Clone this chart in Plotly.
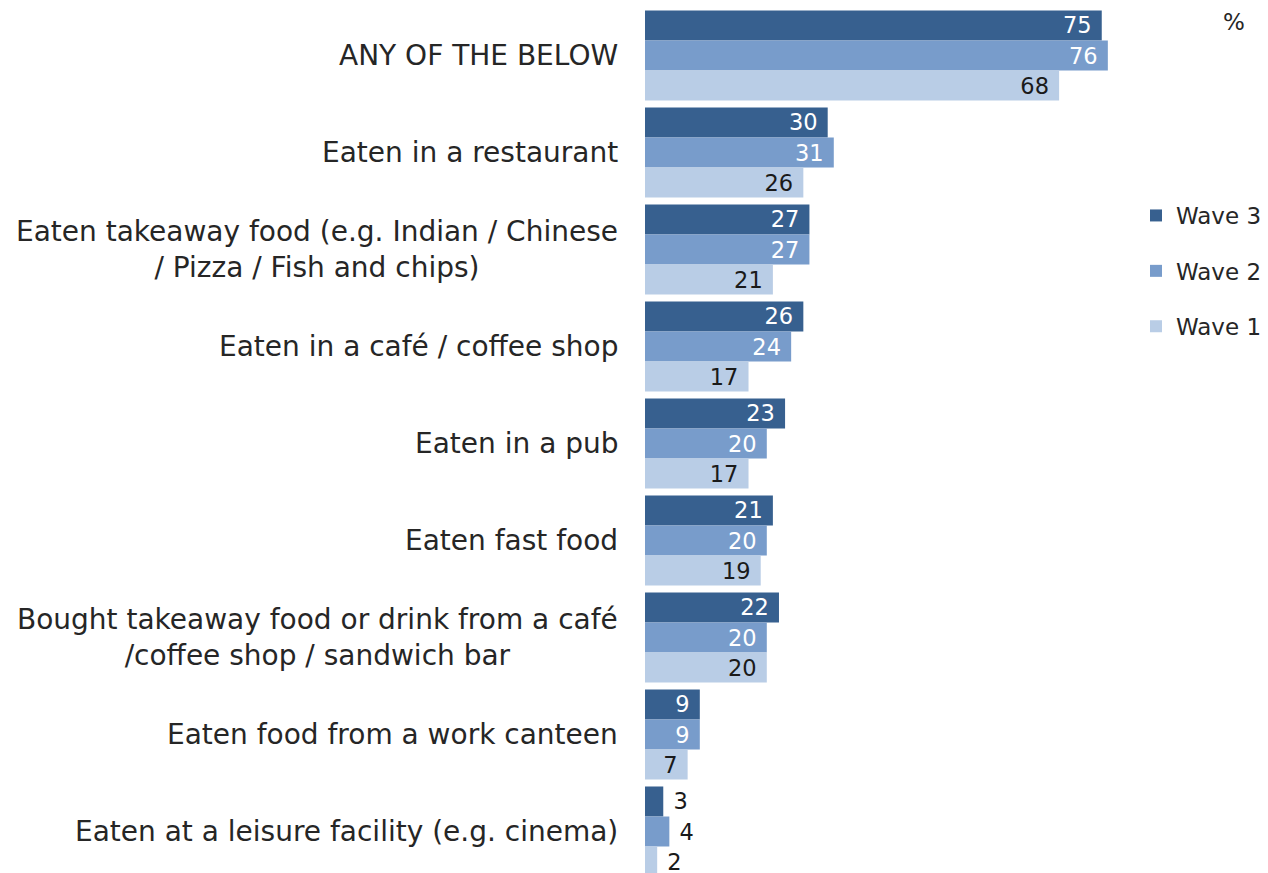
import plotly.graph_objects as go

categories = [
    "ANY OF THE BELOW",
    "Eaten in a restaurant",
    "Eaten takeaway food (e.g. Indian / Chinese<br>/ Pizza / Fish and chips)",
    "Eaten in a café / coffee shop",
    "Eaten in a pub",
    "Eaten fast food",
    "Bought takeaway food or drink from a café<br>/coffee shop / sandwich bar",
    "Eaten food from a work canteen",
    "Eaten at a leisure facility (e.g. cinema)",
]
wave3 = [75, 30, 27, 26, 23, 21, 22, 9, 3]
wave2 = [76, 31, 27, 24, 20, 20, 20, 9, 4]
wave1 = [68, 26, 21, 17, 17, 19, 20, 7, 2]
series_names = ["Wave 3", "Wave 2", "Wave 1"]
colors = ["#37608F", "#789CCB", "#B9CDE6"]
inside_text_colors = ["#FFFFFF", "#FFFFFF", "#1A1A1A"]

W, H = 1268, 873
ML, MR, MT, MB = 645, 128, 7, 0
plot_w = W - ML - MR
plot_h = H - MT - MB
px_per_unit = 6.09
x_max = plot_w / px_per_unit
pitch = 97.0
y_bottom = -0.5 + plot_h / pitch

fig = go.Figure()
ids = list(range(len(categories)))
for name, vals, col, tcol in zip(series_names, [wave3, wave2, wave1], colors, inside_text_colors):
    positions = ["inside" if v >= 6 else "outside" for v in vals]
    tcolors = [tcol if v >= 6 else "#1A1A1A" for v in vals]
    texts = [f"{v}\u00a0" if v >= 6 else f"\u00a0{v}" for v in vals]
    fig.add_trace(go.Bar(
        y=ids, x=vals, name=name, orientation="h",
        marker=dict(color=col, line=dict(width=0)),
        text=texts, textposition=positions, textangle=0,
        insidetextanchor="end",
        textfont=dict(family="DejaVu Sans", size=22.5, color=tcolors),
        constraintext="none", cliponaxis=True,
        legendgroup=name, hoverinfo="x+name",
    ))

for i, cat in enumerate(categories):
    fig.add_annotation(
        text=cat, xref="paper", x=0, xanchor="right", xshift=-25,
        yref="y", y=i, yanchor="middle", align="center", showarrow=False,
        font=dict(family="DejaVu Sans", size=28, color="#262626"),
    )

fig.add_annotation(
    text="%", xref="paper", x=(1234 - ML) / plot_w, xanchor="center",
    yref="paper", y=1 - (22 - MT) / plot_h, yanchor="middle",
    showarrow=False, font=dict(family="DejaVu Sans", size=23, color="#262626"),
)

fig.update_layout(
    width=W, height=H,
    margin=dict(l=ML, r=MR, t=MT, b=MB, pad=0),
    paper_bgcolor="white", plot_bgcolor="white",
    barmode="group", bargap=0.072, bargroupgap=0,
    showlegend=True,
    legend=dict(
        x=(1136 - ML) / plot_w, xanchor="left", y=1 - (194 - MT) / plot_h, yanchor="top",
        font=dict(family="DejaVu Sans", size=23, color="#262626"),
        traceorder="grouped", tracegroupgap=22.5, bgcolor="rgba(0,0,0,0)",
    ),
    xaxis=dict(range=[0, x_max], visible=False, fixedrange=True),
    yaxis=dict(range=[y_bottom, -0.5], visible=False, fixedrange=True),
)

fig.write_html("out.html")
